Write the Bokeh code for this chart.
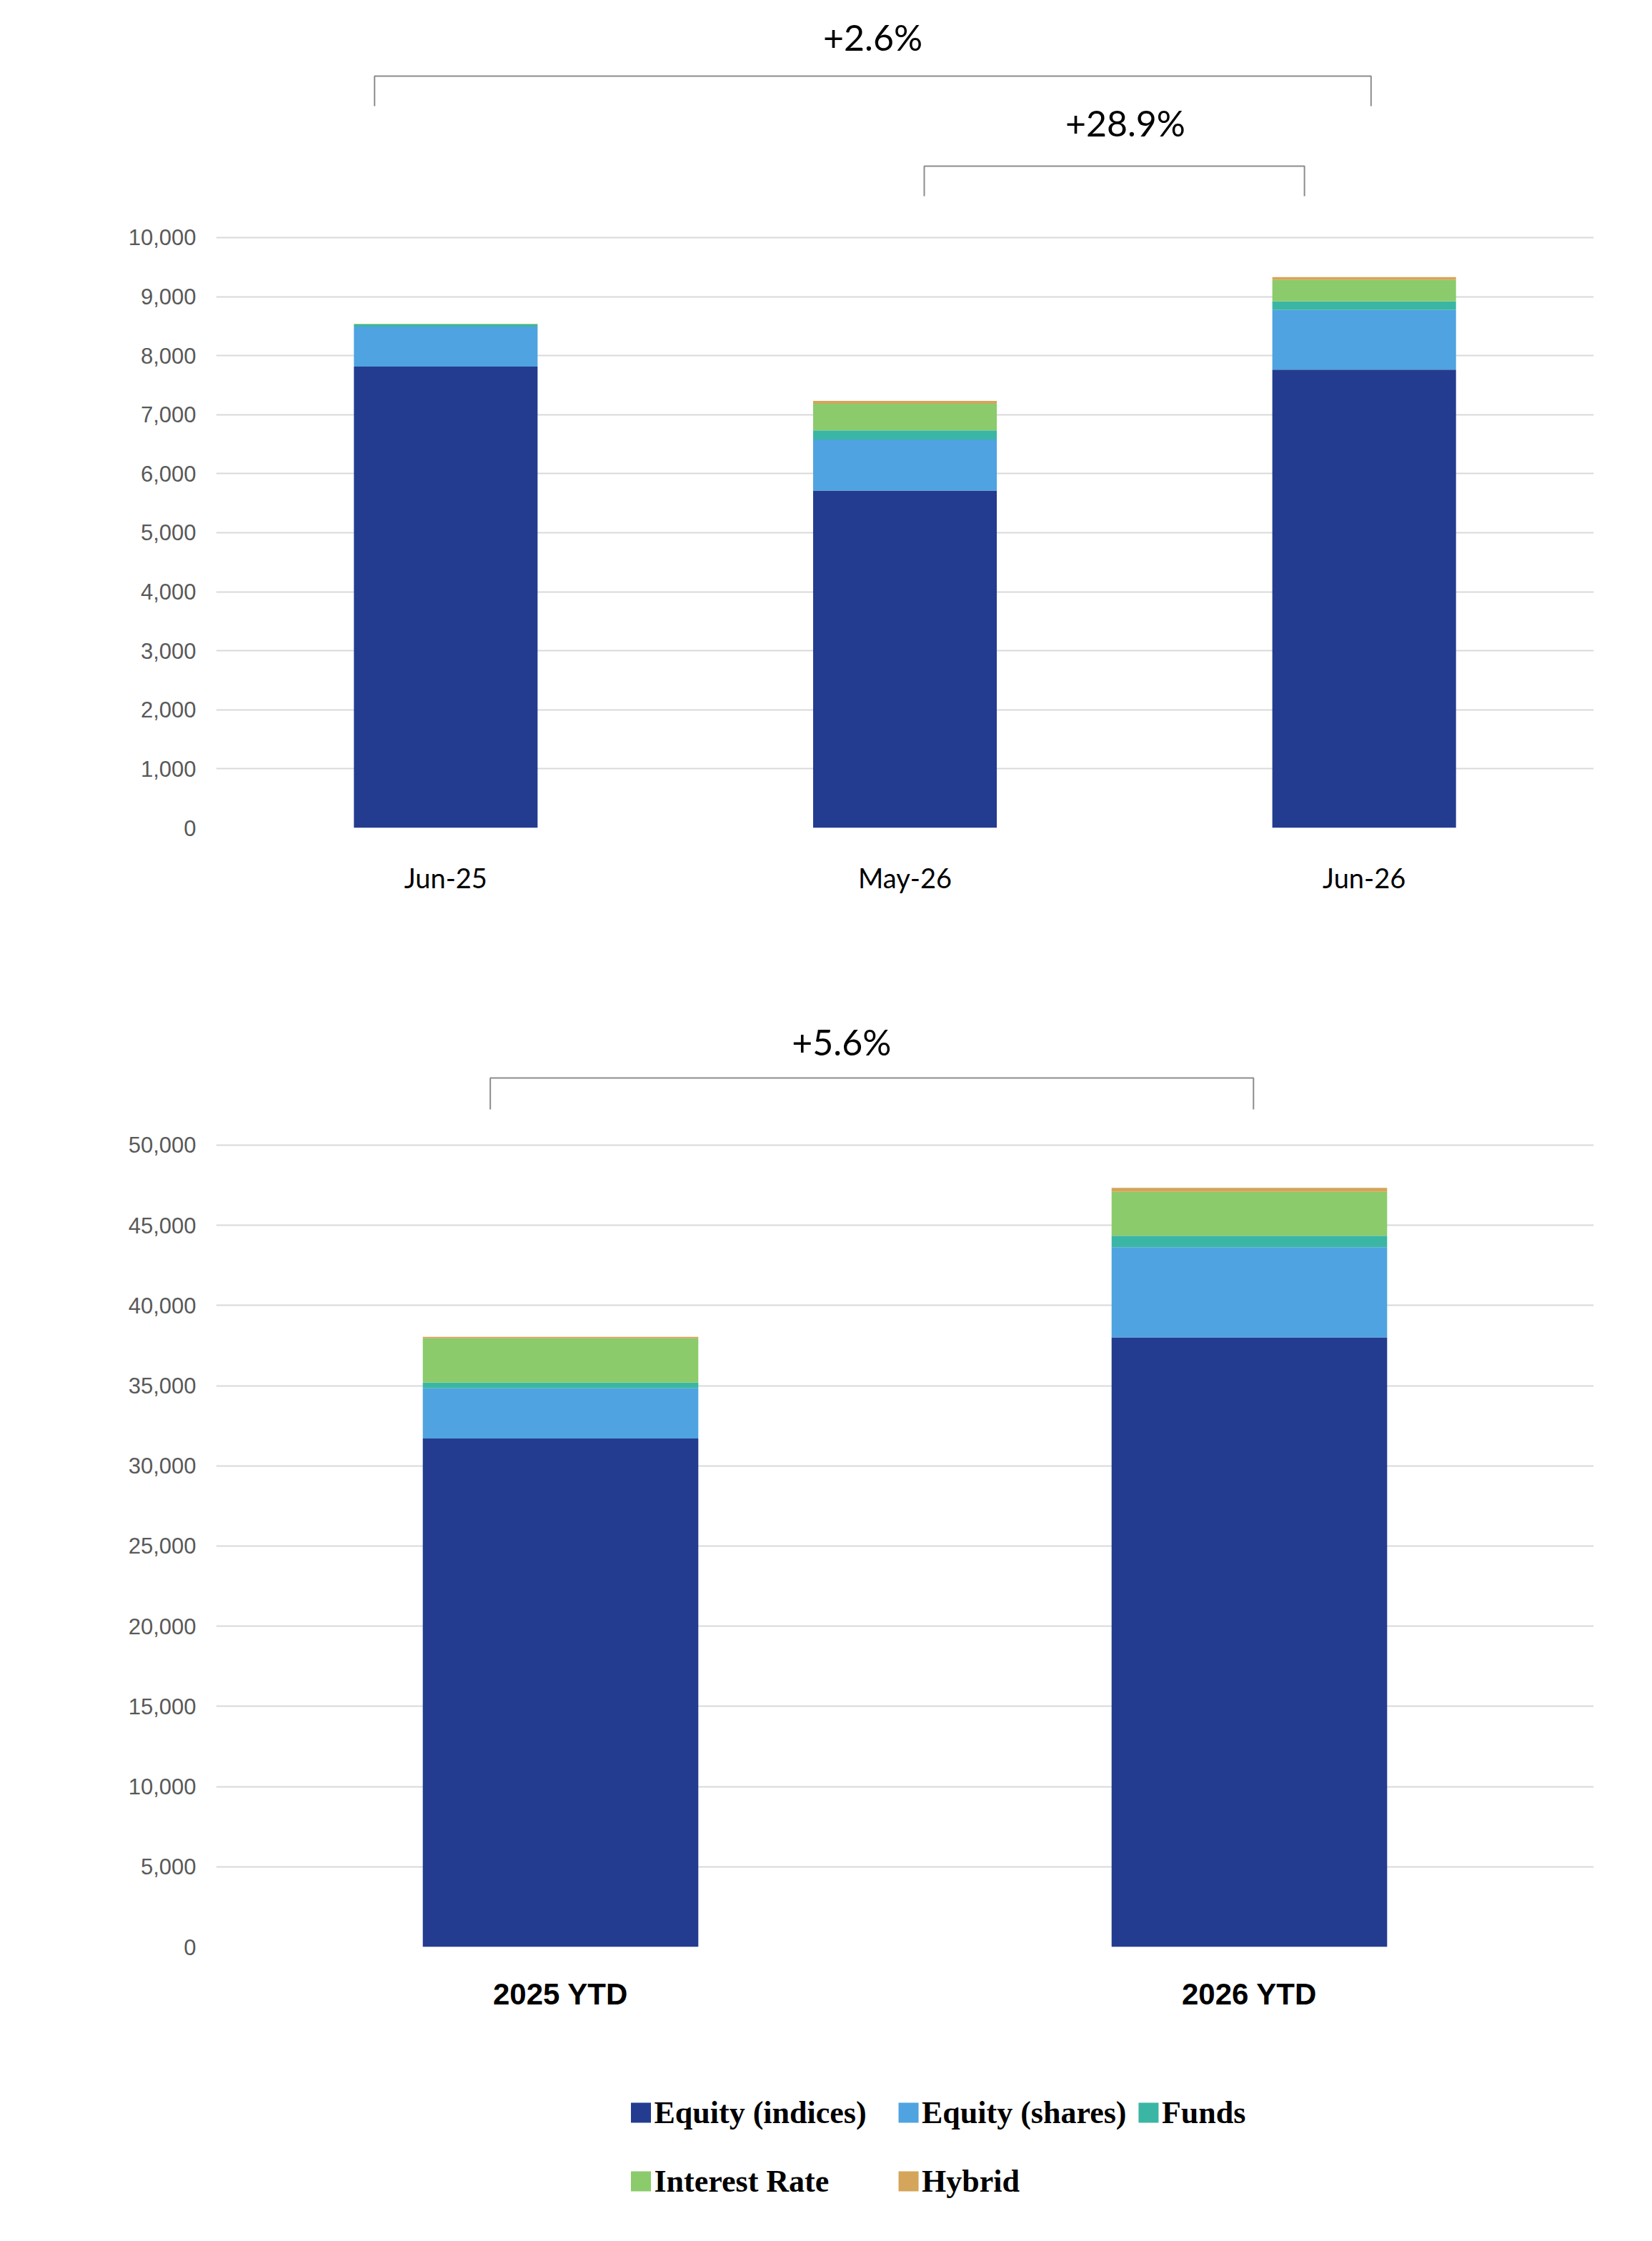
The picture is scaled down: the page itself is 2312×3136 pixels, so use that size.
from bokeh.plotting import figure
from bokeh.models import Range1d, FixedTicker, NumeralTickFormatter, Label, ColumnDataSource
from bokeh.layouts import column
from bokeh.embed import file_html
from bokeh.resources import INLINE

months = ["Jun-25", "May-26", "Jun-26"]
ytd = ["2025 YTD", "2026 YTD"]
series = ["Equity (indices)", "Equity (shares)", "Funds", "Interest Rate", "Hybrid"]
colors = ["#233C8F", "#4FA3E0", "#3BB6A5", "#8BCB6B", "#D4A55A"]

m_idx = [7814, 5713, 7762]
m_shares = [679, 867, 1012]
m_funds = [36, 153, 145]
m_ir = [8, 453, 364]
m_hyb = [3, 48, 48]

y_idx = [31709, 38009]
y_shares = [3128, 5624]
y_funds = [356, 713]
y_ir = [2764, 2749]
y_hyb = [89, 238]

changes_top = ["+2.6%", "+28.9%"]
change_bot = "+5.6%"

W = 2296
TXT = "Lato"
GRID = "#d9d9d9"


def base(height, ymax, nx, bl, br, bt, bb, ticks):
    p = figure(width=W, height=height, output_backend="svg", toolbar_location=None,
               x_range=Range1d(0, nx), y_range=Range1d(0, ymax),
               min_border_left=bl, min_border_right=br, min_border_top=bt, min_border_bottom=bb)
    p.outline_line_color = None
    p.xgrid.grid_line_color = None
    p.ygrid.grid_line_color = GRID
    p.ygrid.grid_line_width = 2
    p.yaxis.ticker = FixedTicker(ticks=ticks)
    p.yaxis.formatter = NumeralTickFormatter(format="0,0")
    p.yaxis.axis_line_color = None
    p.yaxis.major_tick_line_color = None
    p.yaxis.minor_tick_line_color = None
    p.yaxis.major_label_text_font = "Liberation Sans"
    p.yaxis.major_label_text_font_size = "31px"
    p.yaxis.major_label_text_color = "#595959"
    p.yaxis.major_label_standoff = 22
    p.xaxis.axis_line_color = None
    p.xaxis.major_tick_line_color = None
    p.xaxis.minor_tick_line_color = None
    p.xaxis.ticker = FixedTicker(ticks=[i + 0.5 for i in range(nx)])
    p.xaxis.major_label_text_color = "#000000"
    return p


def stack(p, cats, vals):
    data = {"x": [i + 0.5 for i in range(len(cats))]}
    for s, v in zip(series, vals):
        data[s] = v
    p.vbar_stack(series, x="x", width=0.4, color=colors, source=ColumnDataSource(data), line_width=0)


def bracket(p, x0, x1, ytop, ybot, label, lx, ly):
    p.line([x0, x0, x1, x1], [ybot, ytop, ytop, ybot], line_color="#8c8c8c", line_width=2)
    p.add_layout(Label(x=lx, y=ly, text=label, text_font=TXT, text_font_size="50px",
                       text_align="center", text_baseline="middle", text_color="#000000"))


# top chart
p1 = base(1258, 13874, 3, 272, 36, 12, 100, list(range(0, 10001, 1000)))
stack(p1, months, [m_idx, m_shares, m_funds, m_ir, m_hyb])
p1.xaxis.major_label_overrides = {i + 0.5: m for i, m in enumerate(months)}
p1.xaxis.major_label_text_font = TXT
p1.xaxis.major_label_text_font_size = "38px"
p1.xaxis.major_label_standoff = 40
bracket(p1, 0.345, 2.515, 12736, 12228, changes_top[0], 1.43, 13390)
bracket(p1, 1.542, 2.37, 11211, 10702, changes_top[1], 1.98, 11937)
p1.add_layout(Label(x=-0.29, y=8959, text="Millions", angle=1.5708, text_font="Liberation Sans",
                    text_font_size="34px", text_color="#595959", text_align="center",
                    text_baseline="middle"))

# bottom chart
p2 = base(1586, 59358, 2, 302, 66, 134, 120, list(range(0, 50001, 5000)))
stack(p2, ytd, [y_idx, y_shares, y_funds, y_ir, y_hyb])
p2.xaxis.major_label_overrides = {i + 0.5: m for i, m in enumerate(ytd)}
p2.xaxis.major_label_text_font = "Liberation Sans"
p2.xaxis.major_label_text_font_style = "bold"
p2.xaxis.major_label_text_font_size = "42px"
p2.xaxis.major_label_standoff = 36
bracket(p2, 0.398, 1.506, 54189, 52228, change_bot, 0.908, 56417)
p2.add_layout(Label(x=-0.202, y=46168, text="Millions", angle=1.5708, text_font="Liberation Sans",
                    text_font_size="34px", text_color="#595959", text_align="center",
                    text_baseline="middle"))

# legend
p3 = figure(width=W, height=270, output_backend="svg", toolbar_location=None,
            x_range=Range1d(0, W), y_range=Range1d(270, 0), min_border=0)
p3.axis.visible = False
p3.grid.grid_line_color = None
p3.outline_line_color = None
lx = [708, 1154, 1554, 708, 1154]
ly = [112, 112, 112, 208, 208]
p3.scatter(lx, ly, marker="square", size=28, color=colors, line_width=0)
p3.text([x + 22 for x in lx], ly, text=series, text_font="Liberation Sans", text_font_style="bold",
        text_font_size="44px", text_baseline="middle", text_color="#000000")

layout = column(p1, p2, p3, spacing=0)
open("out.html", "w").write(file_html(layout, INLINE))
